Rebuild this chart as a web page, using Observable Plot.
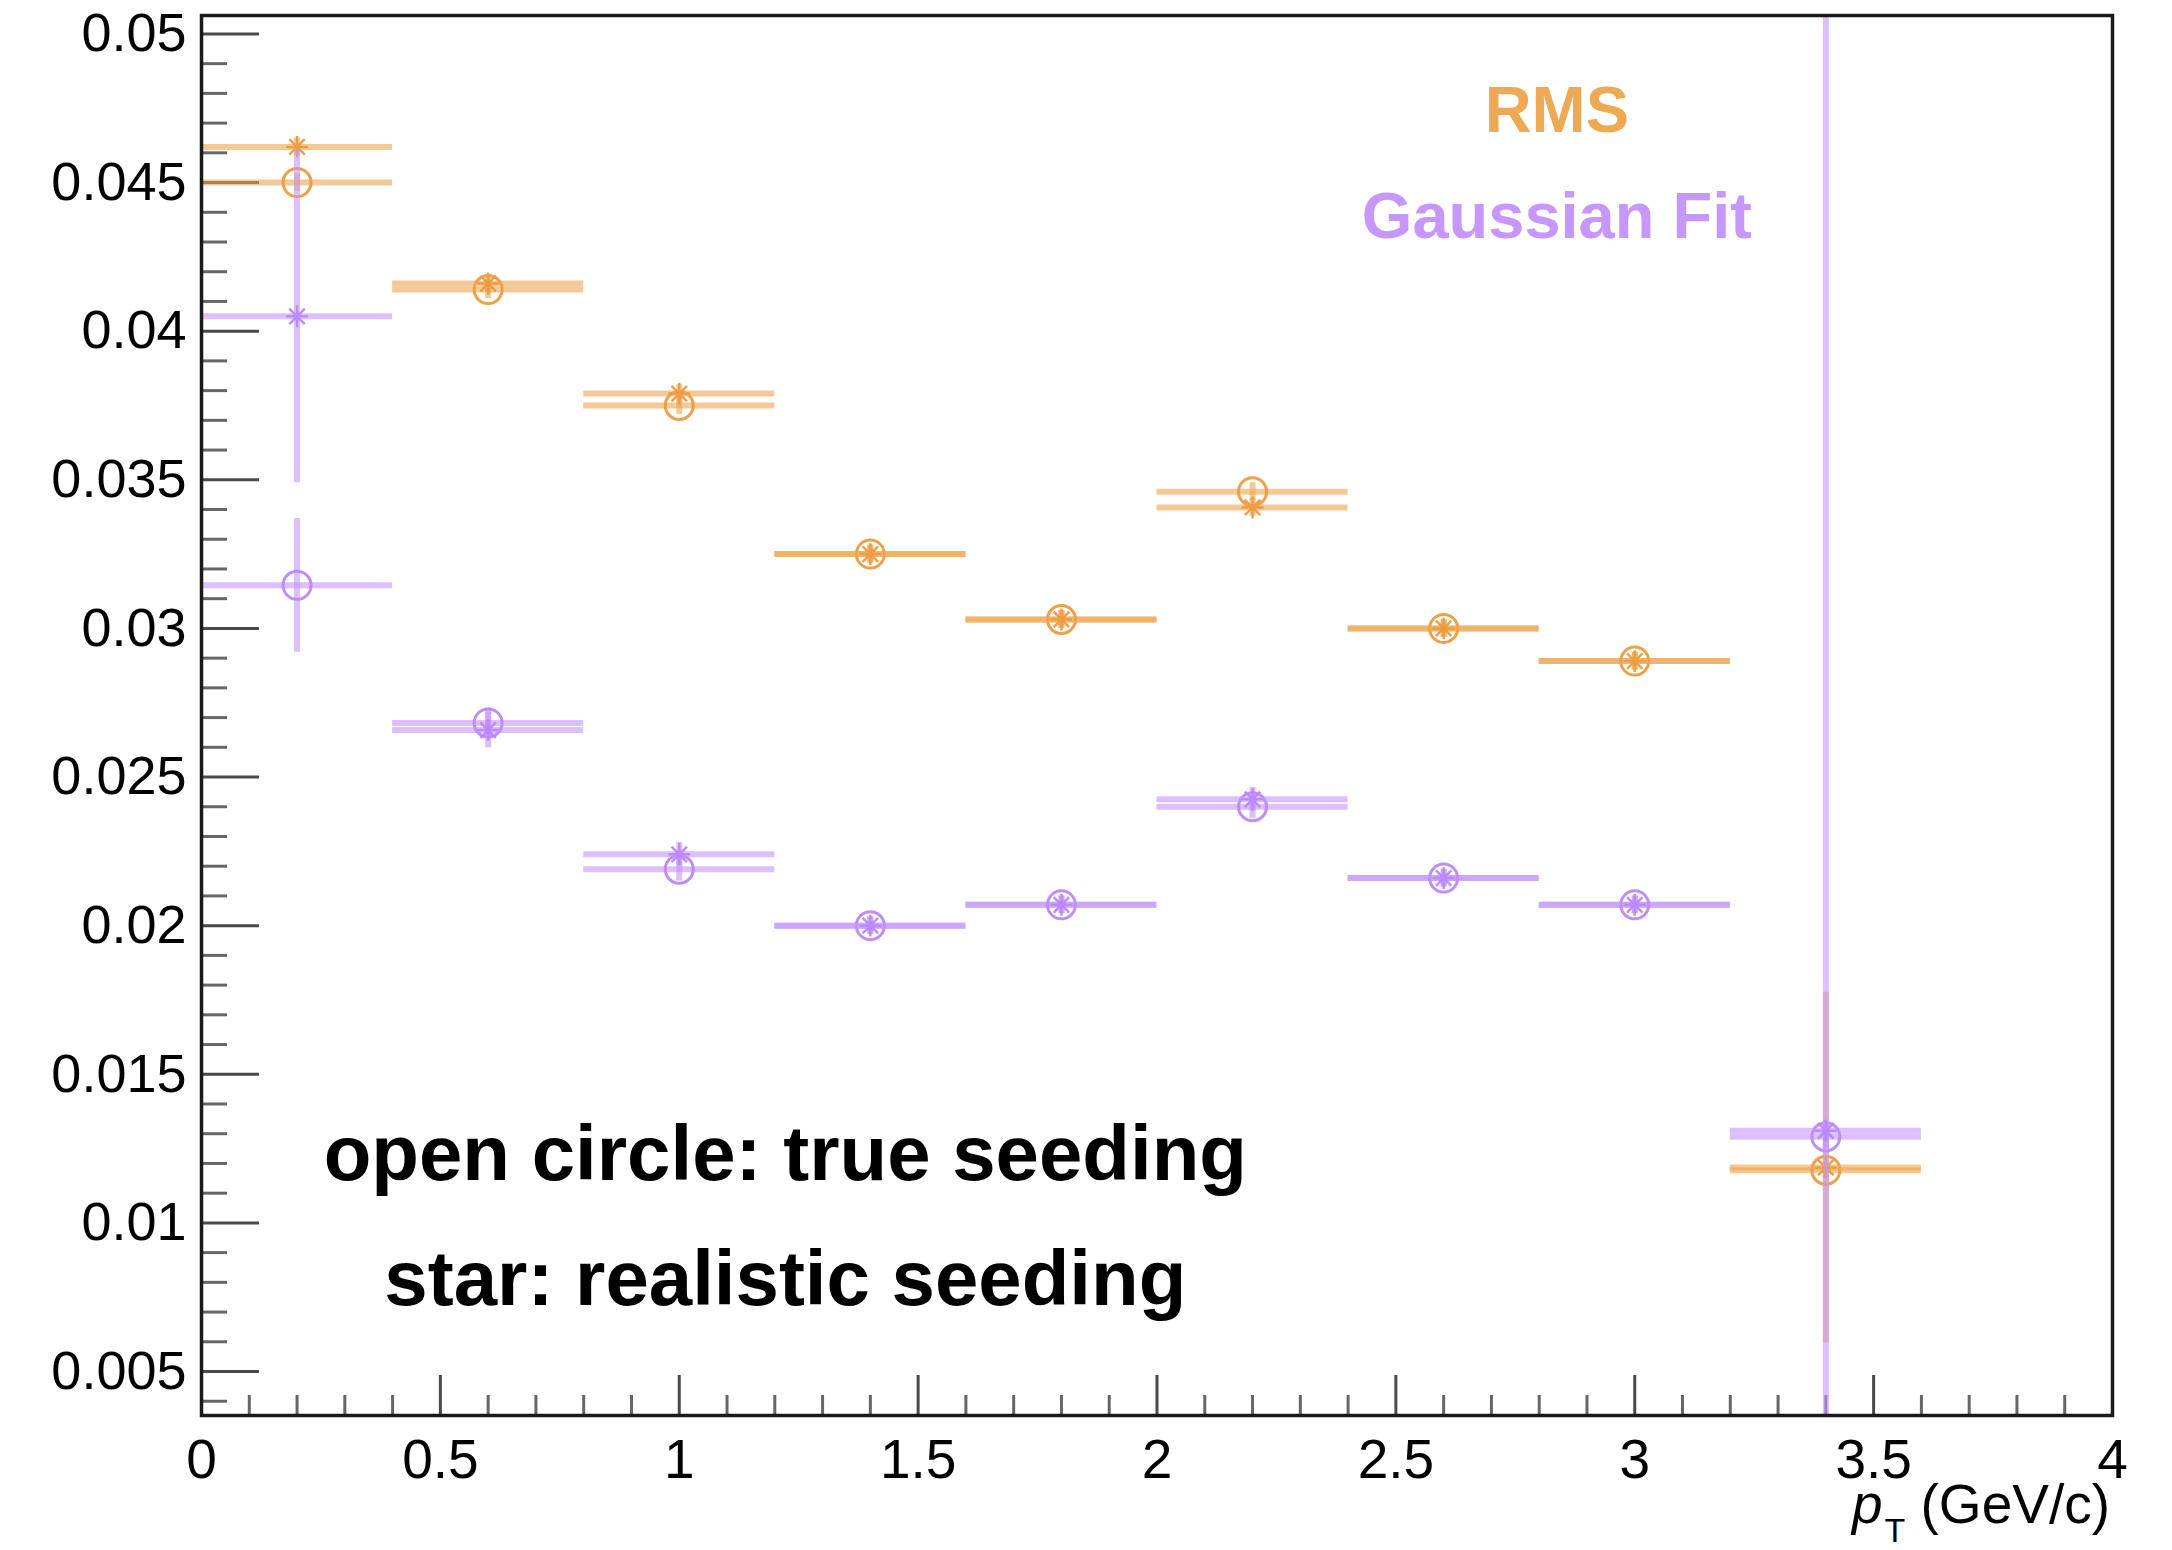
<!DOCTYPE html>
<html>
<head>
<meta charset="utf-8">
<script src="https://cdn.jsdelivr.net/npm/d3@7"></script>
<script src="https://cdn.jsdelivr.net/npm/@observablehq/plot@0.6"></script>
<style>
  html, body { margin: 0; padding: 0; background: #fff; }
  #chart svg { display: block; }
</style>
</head>
<body>
<div id="chart"></div>
<script>
// ---- data ----
const binCenters = [0.2, 0.6, 1.0, 1.4, 1.8, 2.2, 2.6, 3.0, 3.4];
const binLow     = [0.0, 0.4, 0.8, 1.2, 1.6, 2.0, 2.4, 2.8, 3.2];
const binHigh    = [0.4, 0.8, 1.2, 1.6, 2.0, 2.4, 2.8, 3.2, 3.6];

// RMS, true seeding (open circle)
const rmsTrue     = [0.0450, 0.0414, 0.0375, 0.0325, 0.0303, 0.0346, 0.0300, 0.0289, 0.01177];
const rmsTrueErr  = [0.0003, 0.0003, 0.0003, 0.0003, 0.0003, 0.0003, 0.0003, 0.0003, 0.0003];
// RMS, realistic seeding (star)
const rmsReal     = [0.0462, 0.0416, 0.0379, 0.0325, 0.0303, 0.03407, 0.0300, 0.0289, 0.01186];
const rmsRealErr  = [0.0003, 0.0003, 0.0003, 0.0003, 0.0003, 0.0003, 0.0003, 0.0003, 0.0059];
// Gaussian fit, true seeding (open circle)
const gausTrue    = [0.03145, 0.02682, 0.0219, 0.0200, 0.0207, 0.0240, 0.0216, 0.0207, 0.0129];
const gausTrueErr = [0.00225, 0.0005, 0.0004, 0.0003, 0.0003, 0.0004, 0.0003, 0.0003, 0.0004];
// Gaussian fit, realistic seeding (star)
const gausReal    = [0.0405, 0.02658, 0.0224, 0.0200, 0.0207, 0.02425, 0.0216, 0.0207, 0.0131];
const gausRealErr = [0.0056, 0.0006, 0.0004, 0.0003, 0.0003, 0.0004, 0.0003, 0.0003, 0.0600];

const xTicks = [0, 0.5, 1, 1.5, 2, 2.5, 3, 3.5, 4];
const xTickLabels = ["0", "0.5", "1", "1.5", "2", "2.5", "3", "3.5", "4"];
const yTicks = [0.005, 0.01, 0.015, 0.02, 0.025, 0.03, 0.035, 0.04, 0.045, 0.05];
const yTickLabels = ["0.005", "0.01", "0.015", "0.02", "0.025", "0.03", "0.035", "0.04", "0.045", "0.05"];

const legendRMS = ["RMS"];
const legendGaus = ["Gaussian Fit"];
const noteCircle = ["open circle: true seeding"];
const noteStar = ["star: realistic seeding"];

// ---- helpers ----
const ORANGE = "#EEA550";
const ORANGE_MARK = "#EC9C40";
const PURPLE = "#C395FF";
const PURPLE_MARK = "#BB88FF";

function rows(values, errs) {
  return binCenters.map((x, i) => ({x, x1: binLow[i], x2: binHigh[i], y: values[i], e: errs[i]}));
}

function seriesMarks(data, color, markColor, kind) {
  const marks = [
    Plot.ruleY(data, {y: "y", x1: "x1", x2: "x2", stroke: color, strokeOpacity: 0.6, strokeWidth: 6}),
    Plot.ruleX(data, {x: "x", y1: d => d.y - d.e, y2: d => d.y + d.e, stroke: color, strokeOpacity: 0.6, strokeWidth: 6, clip: true})
  ];
  if (kind === "circle") {
    marks.push(Plot.dot(data, {x: "x", y: "y", symbol: "circle", r: 14, stroke: markColor, strokeOpacity: 0.95, strokeWidth: 3, fill: "none"}));
  } else {
    // ROOT-style star marker: plus + times overlaid
    marks.push(Plot.dot(data, {x: "x", y: "y", symbol: "plus", r: 7.1, stroke: markColor, strokeOpacity: 0.95, strokeWidth: 2.5, fill: "none"}));
    marks.push(Plot.dot(data, {x: "x", y: "y", symbol: "times", r: 7.1, stroke: markColor, strokeOpacity: 0.95, strokeWidth: 2.5, fill: "none"}));
  }
  return marks;
}

const xMinor = d3.range(1, 40).map(i => i / 10).filter(v => Math.abs(v * 2 - Math.round(v * 2)) > 1e-9);
const yMinor = d3.range(4, 51).map(i => i / 1000).filter(v => Math.abs(v * 200 - Math.round(v * 200)) > 1e-9);

const FONT = "'Liberation Sans', Arial, Helvetica, sans-serif";

const plot = Plot.plot({
  width: 2172,
  height: 1550,
  marginLeft: 201,
  marginRight: 60,
  marginTop: 15,
  marginBottom: 135,
  style: {fontFamily: FONT, background: "#fff", color: "#000"},
  x: {domain: [0, 4]},
  y: {domain: [0.00352, 0.05062]},
  marks: [
    // minor ticks
    Plot.axisX(xMinor, {tickSize: -20, tickFormat: () => "", stroke: "#666", strokeWidth: 3, label: null}),
    Plot.axisY(yMinor, {tickSize: -26, tickFormat: () => "", stroke: "#666", strokeWidth: 3, label: null}),
    // major ticks
    Plot.axisX(xTicks, {tickSize: -40, tickFormat: () => "", stroke: "#4a4a4a", strokeWidth: 3, label: null}),
    Plot.axisY(yTicks, {tickSize: -58, tickFormat: () => "", stroke: "#4a4a4a", strokeWidth: 3, label: null}),
    // tick labels
    Plot.axisX(xTicks, {tickSize: 0, tickPadding: 23, fontSize: 55, tickFormat: d => xTickLabels[xTicks.indexOf(d)], label: null}),
    Plot.axisY(yTicks, {tickSize: 0, tickPadding: 15, fontSize: 54, tickFormat: d => yTickLabels[yTicks.indexOf(d)], label: null}),

    // series
    ...seriesMarks(rows(rmsTrue, rmsTrueErr), ORANGE, ORANGE_MARK, "circle"),
    ...seriesMarks(rows(rmsReal, rmsRealErr), ORANGE, ORANGE_MARK, "star"),
    ...seriesMarks(rows(gausTrue, gausTrueErr), PURPLE, PURPLE_MARK, "circle"),
    ...seriesMarks(rows(gausReal, gausRealErr), PURPLE, PURPLE_MARK, "star"),

    // annotations
    Plot.text(legendRMS, {x: () => 2.837, y: () => 0.0467, text: d => d, fill: "#EEA955", fontSize: 65, fontWeight: "bold", textAnchor: "middle", lineAnchor: "bottom"}),
    Plot.text(legendGaus, {x: () => 2.837, y: () => 0.04312, text: d => d, fill: "#C597FF", fontSize: 65, fontWeight: "bold", textAnchor: "middle", lineAnchor: "bottom"}),
    Plot.text(noteCircle, {x: () => 1.222, y: () => 0.01145, text: d => d, fill: "#000", fontSize: 78, fontWeight: "bold", textAnchor: "middle", lineAnchor: "bottom"}),
    Plot.text(noteStar, {x: () => 1.222, y: () => 0.00725, text: d => d, fill: "#000", fontSize: 78, fontWeight: "bold", textAnchor: "middle", lineAnchor: "bottom"}),

    Plot.frame({stroke: "#1a1a1a", strokeWidth: 3.5})
  ]
});

// axis title: p_T (GeV/c)
const svg = d3.select(plot);
const t = svg.append("text")
  .attr("x", 2110).attr("y", 1523)
  .attr("text-anchor", "end")
  .attr("font-family", FONT)
  .attr("font-size", 55)
  .attr("fill", "#000");
t.append("tspan").attr("font-style", "italic").attr("fill", "#000").text("p");
t.append("tspan").attr("font-size", 34).attr("dy", 19).attr("dx", 2).attr("fill", "#000").text("T");
t.append("tspan").attr("dy", -19).attr("fill", "#000").text(" (GeV/c)");

document.getElementById("chart").appendChild(plot);
</script>
</body>
</html>
